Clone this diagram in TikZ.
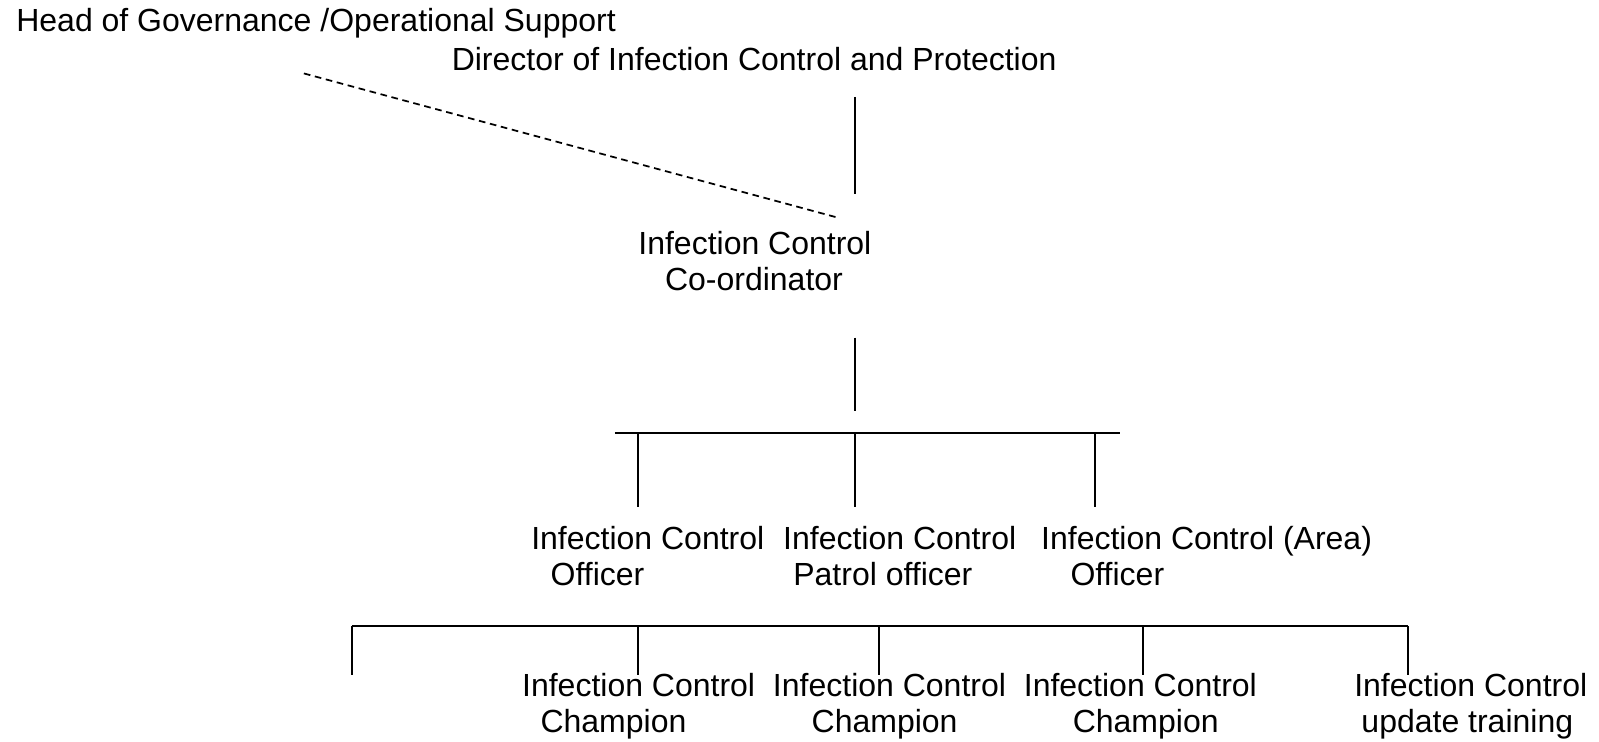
\documentclass[tikz,border=0pt]{standalone}
\usepackage{fontspec}
\setmainfont{Liberation Sans}
\begin{document}
\begin{tikzpicture}[x=0.76485pt,y=-0.76485pt,
  lbl/.style={inner sep=0pt, outer sep=0pt, anchor=base west, align=left, font=\fontsize{24}{26.8}\selectfont},
  ln/.style={line width=1.4pt},
  dsh/.style={line width=1.3pt, dash pattern=on 5pt off 3.5pt}]
\useasboundingbox (0,0) rectangle (1568,727);
% texts (base anchor = baseline of the last line)
\node[lbl] (head) at (16,31) {Head of Governance /Operational Support};
\node[lbl] (dir) at (443,69) {Director of Infection Control and Protection};
\node[lbl] (coord) at (626,285) {Infection Control\\\hspace*{20pt}Co-ordinator};
\node[lbl] (ico) at (521,574) {Infection Control\\\hspace*{14.5pt}Officer};
\node[lbl] (icp) at (768,574) {Infection Control\\\hspace*{7.6pt}Patrol officer};
\node[lbl] (ica) at (1021,574) {Infection Control (Area)\\\hspace*{22pt}Officer};
\node[lbl] (ch1) at (512,718) {Infection Control\\\hspace*{13.8pt}Champion};
\node[lbl] (ch2) at (758,718) {Infection Control\\\hspace*{29pt}Champion};
\node[lbl] (ch3) at (1004,718) {Infection Control\\\hspace*{36.7pt}Champion};
\node[lbl] (upd) at (1328,718) {Infection Control\\\hspace*{5.4pt}update training};
% connector end points
\coordinate (d1t) at (838,95);  \coordinate (d1b) at (838,190);
\coordinate (hs) at (298,72);   \coordinate (he) at (820,213);
\coordinate (c2t) at (838,331); \coordinate (c2b) at (838,403);
\coordinate (b1l) at (603,425); \coordinate (b1r) at (1098,425);
\coordinate (b1a) at (626,425); \coordinate (b1ae) at (626,497);
\coordinate (b1b) at (838,425); \coordinate (b1be) at (838,497);
\coordinate (b1c) at (1074,425); \coordinate (b1ce) at (1074,497);
\coordinate (b2l) at (345,614); \coordinate (b2r) at (1381,614);
\coordinate (b2a) at (345,614); \coordinate (b2ae) at (345,662);
\coordinate (b2b) at (626,614); \coordinate (b2be) at (626,662);
\coordinate (b2c) at (862,614); \coordinate (b2ce) at (862,662);
\coordinate (b2d) at (1121,614); \coordinate (b2de) at (1121,662);
\coordinate (b2e) at (1381,614); \coordinate (b2ee) at (1381,662);
% connectors
\draw[ln] (d1t) -- (d1b);
\draw[dsh] (hs) -- (he);
\draw[ln] (c2t) -- (c2b);
\draw[ln] (b1l) -- (b1r);
\draw[ln] (b1a) -- (b1ae);
\draw[ln] (b1b) -- (b1be);
\draw[ln] (b1c) -- (b1ce);
\draw[ln] (b2l) -- (b2r);
\draw[ln] (b2a) -- (b2ae);
\draw[ln] (b2b) -- (b2be);
\draw[ln] (b2c) -- (b2ce);
\draw[ln] (b2d) -- (b2de);
\draw[ln] (b2e) -- (b2ee);
\end{tikzpicture}
\end{document}
